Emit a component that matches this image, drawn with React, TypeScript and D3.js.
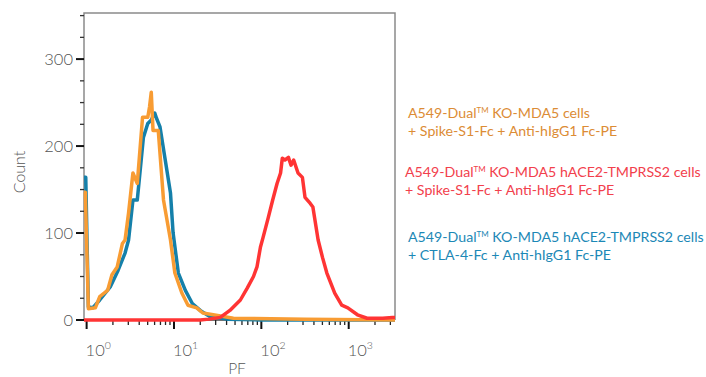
import React, { useEffect, useRef } from 'react';
import * as d3 from 'd3';

// PF values are read in decades (log10 PF), counts per bin
const blueLogPF = [-0.03, -0.01, 0.02, 0.07, 0.15, 0.27, 0.36, 0.44, 0.48, 0.53, 0.58, 0.65, 0.70, 0.74, 0.78, 0.80, 0.84, 0.90, 0.96, 0.99, 1.05, 1.13, 1.21, 1.30, 1.41, 1.61, 2.0, 3.53];
const blueCount = [164, 164, 15, 14, 23, 38, 57, 77, 92, 138, 138, 210, 226, 230, 238, 232, 222, 184, 146, 100, 54, 34, 19, 11, 4, 1, 0, 0];

const orangeLogPF = [-0.03, -0.015, 0.02, 0.10, 0.15, 0.24, 0.29, 0.35, 0.41, 0.44, 0.48, 0.53, 0.58, 0.64, 0.70, 0.72, 0.74, 0.76, 0.82, 0.88, 0.96, 1.01, 1.09, 1.16, 1.26, 1.33, 1.45, 1.68, 2.5, 3.53];
const orangeCount = [147, 147, 13, 14, 27, 34, 52, 61, 88, 92, 123, 169, 157, 233, 233, 245, 262, 218, 218, 138, 92, 54, 31, 17, 14, 8, 6, 2, 1, 0];

const redLogPF = [-0.03, 1.3, 1.4, 1.53, 1.64, 1.76, 1.84, 1.91, 1.95, 1.99, 2.02, 2.08, 2.13, 2.18, 2.22, 2.24, 2.27, 2.31, 2.34, 2.37, 2.42, 2.47, 2.50, 2.56, 2.59, 2.65, 2.70, 2.75, 2.84, 2.92, 2.99, 3.10, 3.21, 3.39, 3.50, 3.53];
const redCount = [0, 0, 1, 3, 11, 23, 37, 50, 61, 84, 95, 118, 138, 157, 169, 186, 184, 187, 178, 184, 169, 164, 141, 134, 130, 92, 72, 54, 31, 17, 14, 6, 2, 2, 3, 3];

const yTicks = [0, 100, 200, 300];
const xDecades = [0, 1, 2, 3];

const legendItems = [
  { lines: ['A549-Dual|KO-MDA5 cells', '+ Spike-S1-Fc + Anti-hIgG1 Fc-PE'], color: '#dc8c35', x: 408, y: 118 },
  { lines: ['A549-Dual|KO-MDA5 hACE2-TMPRSS2 cells', '+ Spike-S1-Fc + Anti-hIgG1 Fc-PE'], color: '#f2404c', x: 405, y: 177 },
  { lines: ['A549-Dual|KO-MDA5 hACE2-TMPRSS2 cells', '+ CTLA-4-Fc + Anti-hIgG1 Fc-PE'], color: '#1c88b6', x: 408, y: 242 },
];

const App: React.FC = () => {
  const svgRef = useRef<SVGSVGElement>(null);

  useEffect(() => {
    if (!svgRef.current) return;
    const svg = d3.select(svgRef.current);
    svg.selectAll('*').remove();

    const left = 84, right = 395, top = 13, bottom = 320;
    const font = 'Lato, "Open Sans", sans-serif';

    const x = d3.scaleLog().domain([10 ** -0.03, 10 ** 3.53]).range([left, right]);
    const y = d3.scaleLinear().domain([0, 353]).range([bottom, top]);

    // frame
    svg.append('path')
      .attr('d', `M${left},${bottom}V${top}H${right}V${bottom}`)
      .attr('fill', 'none')
      .attr('stroke', '#8a8a8a')
      .attr('stroke-width', 1.5);
    svg.append('line')
      .attr('x1', left).attr('x2', right).attr('y1', bottom).attr('y2', bottom)
      .attr('stroke', '#444').attr('stroke-width', 1.5);

    // y ticks
    const yMinor = d3.range(0, 351, 25).filter(v => v % 100 !== 0);
    svg.selectAll('.ymin').data(yMinor).enter().append('line')
      .attr('x1', left - 4).attr('x2', left)
      .attr('y1', d => y(d)).attr('y2', d => y(d))
      .attr('stroke', '#333').attr('stroke-width', 1.3);
    svg.selectAll('.ymaj').data(yTicks).enter().append('line')
      .attr('x1', left - 8).attr('x2', left)
      .attr('y1', d => y(d)).attr('y2', d => y(d))
      .attr('stroke', '#111').attr('stroke-width', 2);
    svg.selectAll('.ylab').data(yTicks).enter().append('text')
      .attr('x', left - 11).attr('y', d => y(d)).attr('dy', '0.36em')
      .attr('text-anchor', 'end')
      .attr('font-family', font).attr('font-weight', 300)
      .attr('font-size', 16.5).attr('fill', '#555')
      .text(d => d);

    // x ticks
    const xMinor: number[] = [];
    xDecades.forEach(e => {
      for (let m = 2; m <= 9; m++) {
        const v = m * 10 ** e;
        if (v <= x.domain()[1]) xMinor.push(v);
      }
    });
    svg.selectAll('.xmin').data(xMinor).enter().append('line')
      .attr('x1', d => x(d)).attr('x2', d => x(d))
      .attr('y1', bottom).attr('y2', bottom + 5)
      .attr('stroke', '#222').attr('stroke-width', 1.3);
    svg.selectAll('.xmaj').data(xDecades).enter().append('line')
      .attr('x1', d => x(10 ** d)).attr('x2', d => x(10 ** d))
      .attr('y1', bottom).attr('y2', bottom + 9)
      .attr('stroke', '#111').attr('stroke-width', 2);
    const xl = svg.selectAll('.xlab').data(xDecades).enter().append('text')
      .attr('x', d => x(10 ** d) - 1).attr('y', 356)
      .attr('font-family', font).attr('font-weight', 300)
      .attr('font-size', 16.5).attr('fill', '#555');
    xl.append('tspan').text('10');
    xl.append('tspan').attr('dy', -7).attr('font-size', 10.5).text(d => d);

    // axis titles
    svg.append('text')
      .attr('transform', 'translate(25,172) rotate(-90)')
      .attr('text-anchor', 'middle')
      .attr('font-family', font).attr('font-weight', 300)
      .attr('font-size', 16).attr('fill', '#555')
      .text('Count');
    svg.append('text')
      .attr('x', 237).attr('y', 374)
      .attr('text-anchor', 'middle')
      .attr('font-family', font).attr('font-weight', 300)
      .attr('font-size', 15.5).attr('fill', '#555')
      .text('PF');

    // histograms
    const line = d3.line<[number, number]>()
      .x(d => x(10 ** d[0]))
      .y(d => y(d[1]))
      .curve(d3.curveLinear);
    const series = [
      { lx: blueLogPF, v: blueCount, color: '#1580aa' },
      { lx: orangeLogPF, v: orangeCount, color: '#f89c33' },
      { lx: redLogPF, v: redCount, color: '#ff3434' },
    ];
    series.forEach(s => {
      const pts = s.lx.map((l, i) => [l, s.v[i]] as [number, number]);
      svg.append('path')
        .attr('d', line(pts) as string)
        .attr('fill', 'none')
        .attr('stroke', s.color)
        .attr('stroke-width', 3.5)
        .attr('stroke-linejoin', 'round');
    });

    // legend
    legendItems.forEach(item => {
      item.lines.forEach((ln, i) => {
        const t = svg.append('text')
          .attr('x', item.x).attr('y', item.y + i * 18)
          .attr('font-family', font)
          .attr('font-size', 14.2).attr('fill', item.color);
        if (ln.includes('|')) {
          const [a, b] = ln.split('|');
          t.append('tspan').text(a);
          t.append('tspan').attr('dy', -5).attr('font-size', 8).text('TM');
          t.append('tspan').attr('dy', 5).text(' ' + b);
        } else {
          t.text(ln);
        }
      });
    });
  }, []);

  return (
    <div>
      <svg ref={svgRef} width={706} height={377}
        style={{ position: 'absolute', left: 0, top: 0, background: '#fff' }} />
    </div>
  );
};

export default App;
